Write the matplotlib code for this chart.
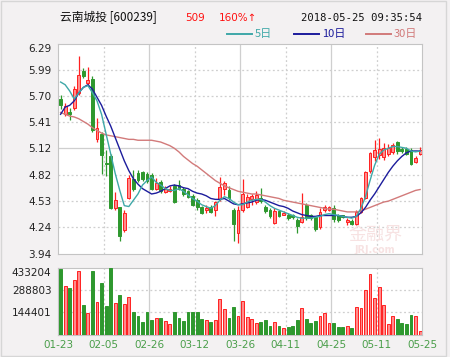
import matplotlib
matplotlib.use('Agg')
import matplotlib.pyplot as plt
from matplotlib.lines import Line2D
from matplotlib.patches import Rectangle

plt.rcParams['font.family'] = ['DejaVu Sans']
plt.rcParams['axes.axisbelow'] = True

# daily candles, 2018-01-23 .. 2018-05-25 (80 trading days)
opens = [5.67, 5.50, 5.53, 5.57, 5.74, 5.98, 5.85, 5.89, 5.22, 5.28,
         4.96, 5.03, 4.45, 4.46, 4.21, 4.57, 4.78, 4.84, 4.85, 4.83,
         4.82, 4.67, 4.74, 4.63, 4.64, 4.70, 4.71, 4.67, 4.64, 4.59,
         4.54, 4.47, 4.43, 4.47, 4.43, 4.55, 4.67, 4.65, 4.43, 4.17,
         4.43, 4.47, 4.55, 4.52, 4.57, 4.47, 4.43, 4.29, 4.42, 4.38,
         4.38, 4.37, 4.32, 4.30, 4.49, 4.37, 4.35, 4.24, 4.43, 4.43,
         4.45, 4.37, 4.37, 4.30, 4.31, 4.27, 4.41, 4.56, 4.87, 5.02,
         5.05, 5.02, 5.06, 5.08, 5.19, 5.11, 5.11, 5.10, 4.97, 5.06]
closes = [5.60, 5.59, 5.50, 5.78, 5.94, 5.93, 5.88, 5.32, 5.35, 5.05,
          4.94, 4.45, 4.54, 4.14, 4.40, 4.79, 4.67, 4.77, 4.78, 4.75,
          4.67, 4.73, 4.64, 4.67, 4.67, 4.52, 4.67, 4.61, 4.58, 4.49,
          4.46, 4.40, 4.45, 4.41, 4.52, 4.69, 4.73, 4.56, 4.28, 4.43,
          4.61, 4.58, 4.59, 4.60, 4.53, 4.42, 4.36, 4.42, 4.36, 4.40,
          4.34, 4.35, 4.25, 4.35, 4.34, 4.34, 4.22, 4.41, 4.46, 4.46,
          4.33, 4.32, 4.35, 4.32, 4.27, 4.41, 4.56, 4.85, 5.07, 5.10,
          5.11, 5.12, 5.12, 5.16, 5.09, 5.09, 5.06, 4.95, 5.01, 5.10]
highs = [5.72, 5.63, 5.57, 5.82, 6.15, 6.02, 6.03, 5.93, 5.46, 5.30,
         5.10, 5.06, 4.63, 4.47, 4.43, 4.82, 4.88, 4.88, 4.87, 4.86,
         4.84, 4.79, 4.77, 4.70, 4.70, 4.72, 4.77, 4.69, 4.66, 4.61,
         4.56, 4.48, 4.49, 4.49, 4.53, 4.80, 4.75, 4.70, 4.45, 4.48,
         4.78, 4.61, 4.61, 4.64, 4.68, 4.49, 4.45, 4.45, 4.43, 4.42,
         4.40, 4.39, 4.34, 4.62, 4.51, 4.39, 4.36, 4.45, 4.49, 4.48,
         4.49, 4.39, 4.38, 4.34, 4.33, 4.43, 4.58, 4.87, 5.08, 5.21,
         5.24, 5.18, 5.17, 5.18, 5.20, 5.13, 5.13, 5.12, 5.03, 5.13]
lows = [5.56, 5.48, 5.44, 5.55, 5.71, 5.90, 5.82, 5.30, 5.19, 4.83,
        4.81, 4.44, 4.43, 4.09, 4.19, 4.55, 4.64, 4.74, 4.75, 4.73,
        4.65, 4.65, 4.62, 4.62, 4.63, 4.51, 4.65, 4.59, 4.56, 4.48,
        4.43, 4.39, 4.40, 4.40, 4.36, 4.53, 4.60, 4.54, 4.08, 4.06,
        4.41, 4.45, 4.49, 4.50, 4.51, 4.40, 4.34, 4.27, 4.35, 4.37,
        4.32, 4.33, 4.17, 4.29, 4.32, 4.32, 4.20, 4.22, 4.41, 4.42,
        4.30, 4.30, 4.34, 4.26, 4.26, 4.26, 4.40, 4.55, 4.84, 4.98,
        5.00, 4.99, 5.03, 5.06, 5.06, 5.07, 5.04, 4.93, 4.96, 5.05]
volumes = [424800, 316500, 303500, 353400, 411800, 191300, 137500, 411800, 212700, 332000,
           184800, 429300, 206200, 256200, 197800, 241200, 147900, 120000, 79100, 144000,
           94000, 109000, 109000, 87500, 66100, 144000, 109000, 87500, 147900, 144000,
           147900, 102600, 94000, 79100, 94000, 228300, 165400, 105100, 176400, 120000,
           219200, 115400, 98600, 72600, 79100, 92100, 57100, 79100, 57100, 44100,
           50600, 57100, 92100, 169900, 102600, 72600, 87500, 120000, 137500, 72600,
           77000, 50600, 50600, 57100, 44100, 176400, 169900, 288600, 392400, 238700,
           310000, 191300, 66100, 120000, 102600, 72600, 66100, 126500, 120000, 22700]

ma5 = [5.86, 5.83, 5.76, 5.67, 5.74, 5.80, 5.82, 5.74, 5.65, 5.50,
       5.28, 5.06, 4.84, 4.65, 4.48, 4.47, 4.54, 4.61, 4.71, 4.76,
       4.80, 4.74, 4.71, 4.67, 4.65, 4.65, 4.67, 4.64, 4.60, 4.56,
       4.53, 4.49, 4.47, 4.45, 4.48, 4.54, 4.58, 4.56, 4.52, 4.49,
       4.49, 4.52, 4.54, 4.55, 4.55, 4.52, 4.48, 4.45, 4.43, 4.41,
       4.39, 4.37, 4.35, 4.34, 4.34, 4.34, 4.35, 4.36, 4.38, 4.39,
       4.38, 4.37, 4.36, 4.35, 4.34, 4.36, 4.45, 4.58, 4.76, 4.93,
       5.05, 5.10, 5.12, 5.14, 5.14, 5.13, 5.12, 5.09, 5.08, 5.09]
ma10 = [5.50, 5.58, 5.60, 5.65, 5.74, 5.80, 5.83, 5.78, 5.69, 5.60,
        5.48, 5.37, 5.24, 5.11, 4.98, 4.87, 4.78, 4.72, 4.67, 4.64,
        4.61, 4.62, 4.64, 4.67, 4.70, 4.71, 4.70, 4.68, 4.67, 4.64,
        4.62, 4.61, 4.59, 4.56, 4.55, 4.55, 4.56, 4.53, 4.50, 4.49,
        4.50, 4.51, 4.52, 4.54, 4.55, 4.54, 4.52, 4.50, 4.48, 4.47,
        4.45, 4.42, 4.40, 4.38, 4.37, 4.36, 4.36, 4.37, 4.37, 4.37,
        4.37, 4.37, 4.36, 4.35, 4.35, 4.36, 4.40, 4.46, 4.54, 4.61,
        4.69, 4.77, 4.85, 4.92, 4.98, 5.03, 5.07, 5.09, 5.09, 5.09]
ma30 = [5.52, 5.50, 5.48, 5.47, 5.45, 5.42, 5.39, 5.35, 5.32, 5.29,
        5.27, 5.26, 5.25, 5.24, 5.23, 5.22, 5.22, 5.21, 5.21, 5.21,
        5.21, 5.20, 5.19, 5.17, 5.15, 5.12, 5.08, 5.03, 4.99, 4.95,
        4.92, 4.88, 4.84, 4.80, 4.76, 4.73, 4.70, 4.68, 4.66, 4.64,
        4.63, 4.62, 4.61, 4.61, 4.60, 4.59, 4.58, 4.57, 4.56, 4.54,
        4.53, 4.52, 4.51, 4.50, 4.49, 4.48, 4.47, 4.46, 4.45, 4.44,
        4.44, 4.43, 4.42, 4.41, 4.41, 4.41, 4.42, 4.44, 4.46, 4.48,
        4.50, 4.52, 4.53, 4.55, 4.57, 4.59, 4.61, 4.63, 4.65, 4.66]

date_labels = ['01-23', '02-05', '02-26', '03-12', '03-26', '04-11', '04-25', '05-11', '05-25']
price_ticks = [6.29, 5.99, 5.70, 5.41, 5.12, 4.82, 4.53, 4.24, 3.94]
vol_ticks = [433204, 288803, 144401]

red_edge = '#ff2020'
red_fill = '#ff8c8c'
green = '#2e982e'
grid_c = '#cfcfcf'
c5 = '#3fa8a8'
c10 = '#1c1c9c'
c30 = '#d27a7a'

fig = plt.figure(figsize=(4.5, 3.57), dpi=100)
fig.patch.set_facecolor('#f3f1f2')
fig.add_artist(Rectangle((0.002, 0.003), 0.988, 0.994, transform=fig.transFigure,
                         fill=False, edgecolor='#d6d6d6', lw=1))

ax = fig.add_axes([0.1296, 0.2885, 0.809, 0.5896])
bx = fig.add_axes([0.1296, 0.063, 0.809, 0.187])

n = len(closes)
xs = list(range(n))
up = [c >= o for o, c in zip(opens, closes)]
xgrid = [9.5 + 10 * k for k in range(7)]

for a in (ax, bx):
    a.set_facecolor('white')
    a.set_xlim(-0.5, n - 0.5)
    for s in a.spines.values():
        s.set_color('#c4c4c4')
    for k, g in enumerate(xgrid):
        a.axvline(g, color=grid_c, lw=0.9, ls='-' if k % 2 == 1 else (0, (1.5, 2)), zorder=0)
    a.tick_params(length=0, labelsize=7.5, colors='#222222', pad=5)

# price panel
for t in price_ticks[1:-1]:
    ax.axhline(t, color=grid_c, lw=0.9, ls='-' if t == 5.12 else (0, (1.5, 2)), zorder=0)
for i in xs:
    col = red_edge if up[i] else green
    ax.vlines(i, lows[i], highs[i], color=col, lw=0.9, zorder=2)
    lo = min(opens[i], closes[i])
    h = max(abs(closes[i] - opens[i]), 0.008)
    ax.bar(i, h, bottom=lo, width=0.62, color=red_fill if up[i] else green,
           edgecolor=col, lw=0.7, zorder=3)
ax.plot(xs, ma30, color=c30, lw=1.0, zorder=4)
ax.plot(xs, ma10, color=c10, lw=1.0, zorder=5)
ax.plot(xs, ma5, color=c5, lw=1.0, zorder=5)
ax.set_ylim(3.94, 6.29)
ax.set_yticks(price_ticks)
ax.set_yticklabels(['%.2f' % t for t in price_ticks])
ax.set_xticks([])
ax.get_yticklabels()[0].set_va('top')

# watermark
ax.text(0.87, 0.09, '金融界', transform=ax.transAxes, ha='center', va='center',
        fontsize=13, color='#f7e2e2', family=['Noto Sans CJK SC', 'DejaVu Sans'], zorder=1)
ax.text(0.87, 0.02, 'JRJ.com', transform=ax.transAxes, ha='center', va='center',
        fontsize=7, color='#f7e2e2', fontweight='bold', zorder=1)

# volume panel
for t in vol_ticks[1:]:
    bx.axhline(t, color=grid_c, lw=0.9, ls=(0, (1.5, 2)), zorder=0)
bx.bar(xs, volumes, width=0.62,
       color=[red_fill if u else green for u in up],
       edgecolor=[red_edge if u else green for u in up], lw=0.7, zorder=3)
bx.set_ylim(0, 433204)
bx.set_yticks(vol_ticks)
bx.set_yticklabels([str(t) for t in vol_ticks])
bx.get_yticklabels()[0].set_va('top')
bx.set_xticks([-0.5] + xgrid + [n - 0.5])
bx.set_xticklabels(date_labels)
bx.tick_params(axis='x', colors='#4a9e4a', labelsize=7.5, pad=4)

# header
cjk = ['Noto Sans CJK SC', 'DejaVu Sans']
fig.text(0.133, 0.950, '云南城投 [600239]', fontsize=8.5, family=cjk, va='center', color='#111111')
fig.text(0.411, 0.950, '509', fontsize=7.5, va='center', color='#ff1010')
fig.text(0.487, 0.950, '160%↑', fontsize=7.5, va='center', color='#ff1010')
fig.text(0.938, 0.950, '2018-05-25 09:35:54', fontsize=7.6, va='center', ha='right',
         family='DejaVu Sans Mono', color='#111111')

legend_items = [(0.504, c5, '5日'), (0.653, c10, '10日'), (0.813, c30, '30日')]
for x0, col, lab in legend_items:
    fig.add_artist(Line2D([x0, x0 + 0.055], [0.905, 0.905], transform=fig.transFigure,
                          color=col, lw=1.4))
    fig.text(x0 + 0.062, 0.905, lab, fontsize=8, family=cjk, va='center', color=col)

plt.savefig('out.png', dpi=100, facecolor=fig.get_facecolor())
